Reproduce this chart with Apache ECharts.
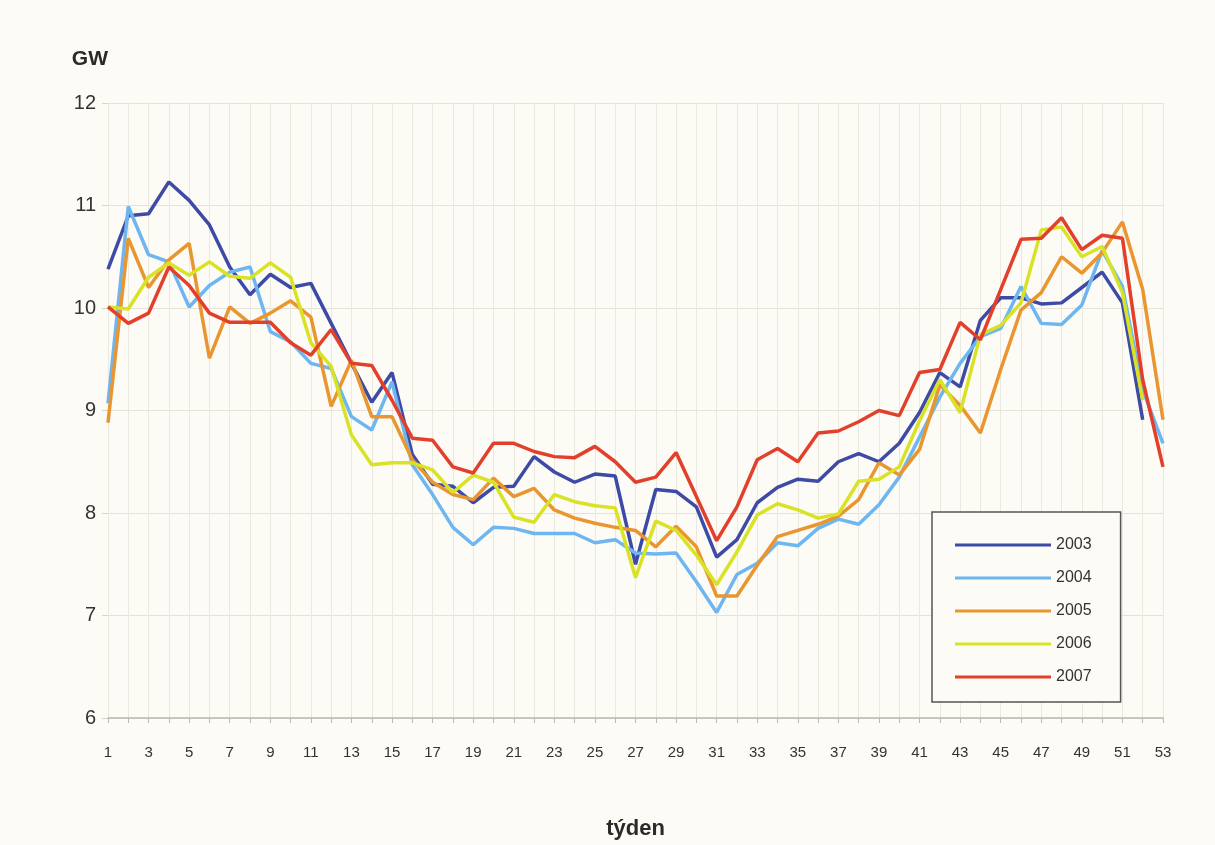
<!DOCTYPE html>
<html>
<head>
<meta charset="utf-8">
<script src="https://cdn.jsdelivr.net/npm/echarts@6/dist/echarts.min.js"></script>
<style>
html,body{margin:0;padding:0;background:#fcfbf6;}
#c{width:1215px;height:845px;}
</style>
</head>
<body>
<div id="c"></div>
<script>
const weeks = Array.from({length:53},(_,i)=>String(i+1));
const years = ['2003','2004','2005','2006','2007'];
const y2003 = [10.38,10.90,10.92,11.23,11.05,10.81,10.40,10.13,10.33,10.20,10.24,9.85,9.46,9.08,9.37,8.57,8.28,8.26,8.10,8.25,8.26,8.55,8.40,8.30,8.38,8.36,7.50,8.23,8.21,8.06,7.57,7.74,8.10,8.25,8.33,8.31,8.50,8.58,8.50,8.68,8.98,9.37,9.23,9.88,10.10,10.10,10.04,10.05,10.20,10.35,10.05,8.91,null];
const y2004 = [9.07,10.99,10.52,10.45,10.01,10.22,10.35,10.40,9.77,9.67,9.46,9.41,8.94,8.81,9.28,8.47,8.18,7.86,7.69,7.86,7.85,7.80,7.80,7.80,7.71,7.74,7.61,7.60,7.61,7.33,7.03,7.40,7.51,7.71,7.68,7.85,7.94,7.89,8.08,8.35,8.74,9.13,9.46,9.72,9.80,10.21,9.85,9.84,10.03,10.56,10.21,9.20,8.68];
const y2005 = [8.88,10.68,10.20,10.47,10.63,9.51,10.01,9.85,9.95,10.07,9.91,9.04,9.49,8.94,8.94,8.52,8.30,8.18,8.13,8.34,8.16,8.24,8.03,7.95,7.90,7.86,7.83,7.67,7.87,7.67,7.19,7.19,7.49,7.77,7.83,7.89,7.97,8.13,8.49,8.37,8.62,9.25,9.05,8.78,9.40,9.98,10.15,10.50,10.34,10.54,10.84,10.18,8.91];
const y2006 = [10.01,9.99,10.30,10.44,10.32,10.45,10.31,10.29,10.44,10.30,9.66,9.43,8.76,8.47,8.49,8.49,8.42,8.20,8.37,8.30,7.96,7.91,8.18,8.11,8.07,8.05,7.37,7.92,7.83,7.59,7.30,7.62,7.98,8.09,8.03,7.95,7.99,8.31,8.33,8.45,8.90,9.30,8.98,9.74,9.83,10.05,10.76,10.79,10.50,10.60,10.15,9.10,null];
const y2007 = [10.01,9.85,9.95,10.40,10.22,9.95,9.86,9.86,9.86,9.66,9.54,9.79,9.46,9.44,9.10,8.73,8.71,8.45,8.39,8.68,8.68,8.60,8.55,8.54,8.65,8.50,8.30,8.35,8.59,8.16,7.73,8.06,8.52,8.63,8.50,8.78,8.80,8.89,9.00,8.95,9.37,9.40,9.86,9.69,10.18,10.67,10.68,10.88,10.57,10.71,10.68,9.30,8.45];
const seriesData = [y2003,y2004,y2005,y2006,y2007];
const colors = ['#3d4aa6','#6db6ef','#ea9630','#d9e225','#e2402b'];

const chart = echarts.init(document.getElementById('c'));
chart.setOption({
  backgroundColor:'#fcfbf6',
  animation:false,
  grid:{left:108,right:52,top:103,bottom:127,outerBoundsMode:'none',containLabel:false},
  legend:{
    orient:'vertical',left:932,top:512,
    data:years,
    icon:'rect',itemWidth:96,itemHeight:3,itemGap:13,
    padding:[23,29,15,23],
    borderColor:'#555',borderWidth:1.5,
    backgroundColor:'#fcfbf6',
    textStyle:{fontFamily:'Liberation Sans',fontSize:16,color:'#333',lineHeight:20}
  },
  xAxis:{
    type:'category',data:weeks,boundaryGap:false,
    name:'týden',nameLocation:'middle',nameGap:100,
    nameTextStyle:{fontFamily:'Liberation Sans',fontSize:22,fontWeight:'bold',color:'#2a2a2a'},
    axisLine:{lineStyle:{color:'#bdb9b0',width:1.5}},
    axisTick:{interval:0,lineStyle:{color:'#bdb9b0'},length:5},
    axisLabel:{interval:1,margin:27,fontFamily:'Liberation Sans',fontSize:15,color:'#333'},
    splitLine:{show:true,interval:0,lineStyle:{color:'#ebe8de',width:1}}
  },
  yAxis:{
    type:'value',min:6,max:12,interval:1,
    name:'GW',nameLocation:'end',nameGap:33,
    nameTextStyle:{fontFamily:'Liberation Sans',fontSize:21,fontWeight:'bold',color:'#2a2a2a',align:'right'},
    axisLine:{show:false},
    axisTick:{show:true,length:6,lineStyle:{color:'#d8d4ca'}},
    axisLabel:{margin:12,fontFamily:'Liberation Sans',fontSize:20,color:'#333'},
    splitLine:{show:true,lineStyle:{color:'#e6e2d8',width:1}}
  },
  series: years.map((y,i)=>({
    name:y,type:'line',data:seriesData[i],
    showSymbol:false,symbol:'none',
    lineStyle:{color:colors[i],width:3.5},
    itemStyle:{color:colors[i]},
    z:2+i
  }))
});
</script>
</body>
</html>
